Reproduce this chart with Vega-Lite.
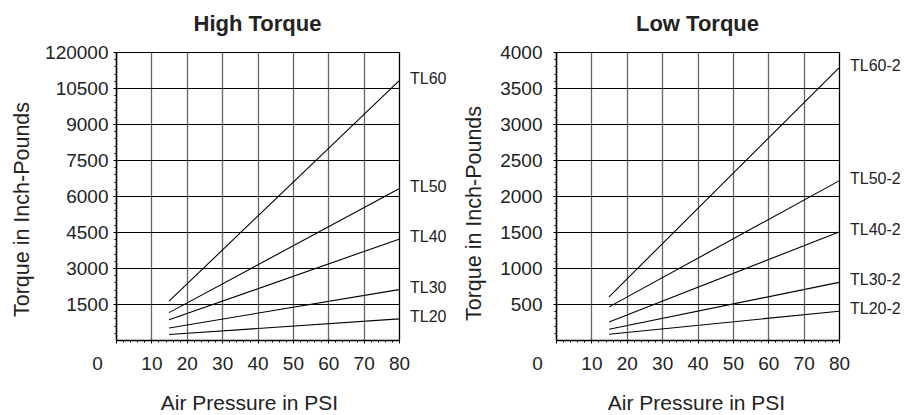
{
  "$schema": "https://vega.github.io/schema/vega-lite/v6.json",
  "padding": {"left": 11, "top": 12, "right": 0, "bottom": 0},
  "spacing": 16,
  "config": {
    "font": "Liberation Sans",
    "view": {"stroke": "#000", "strokeWidth": 1},
    "axis": {"labelColor": "#222", "titleColor": "#222", "titleFontWeight": "normal", "labelFlush": false, "labelOverlap": false, "labelBound": false, "domainColor": "#000", "tickColor": "#000"},
    "text": {"color": "#222"}
  },
  "datasets": {
    "high": [
      {"series": "TL60", "psi": 15, "torque": 1620}, {"series": "TL60", "psi": 80, "torque": 10800},
      {"series": "TL50", "psi": 15, "torque": 1140}, {"series": "TL50", "psi": 80, "torque": 6300},
      {"series": "TL40", "psi": 15, "torque": 840}, {"series": "TL40", "psi": 80, "torque": 4200},
      {"series": "TL30", "psi": 15, "torque": 500}, {"series": "TL30", "psi": 80, "torque": 2100},
      {"series": "TL20", "psi": 15, "torque": 230}, {"series": "TL20", "psi": 80, "torque": 880}
    ],
    "low": [
      {"series": "TL60-2", "psi": 15, "torque": 600}, {"series": "TL60-2", "psi": 80, "torque": 3780},
      {"series": "TL50-2", "psi": 15, "torque": 460}, {"series": "TL50-2", "psi": 80, "torque": 2210},
      {"series": "TL40-2", "psi": 15, "torque": 250}, {"series": "TL40-2", "psi": 80, "torque": 1500},
      {"series": "TL30-2", "psi": 15, "torque": 150}, {"series": "TL30-2", "psi": 80, "torque": 800},
      {"series": "TL20-2", "psi": 15, "torque": 80}, {"series": "TL20-2", "psi": 80, "torque": 400}
    ]
  },
  "hconcat": [
    {
      "width": 283, "height": 288,
      "title": {"text": "High Torque", "frame": "group", "anchor": "middle", "baseline": "alphabetic", "offset": -10, "fontSize": 22, "fontWeight": "bold", "color": "#222"},
      "data": {"name": "high"},
      "layer": [
        {
          "mark": {"type": "line", "color": "#000", "strokeWidth": 1.1},
          "encoding": {
            "x": {"field": "psi", "type": "quantitative", "scale": {"domain": [0, 80], "nice": false},
              "axis": {"orient": "bottom", "values": [0, 10, 20, 30, 40, 50, 60, 70, 80], "title": "Air Pressure in PSI", "grid": true,
                "gridColor": {"condition": {"test": "datum.value == 80", "value": "#000"}, "value": "#666"}, "gridWidth": 1.3,
                "domainWidth": 1.5, "tickSize": 3, "labelFontSize": 19, "labelPadding": 11.5,
                "labelOffset": {"condition": {"test": "datum.value == 0", "value": -19}, "value": 0},
                "titleFontSize": 21, "titleX": 133, "titleY": 63, "titleBaseline": "middle"}},
            "y": {"field": "torque", "type": "quantitative", "scale": {"domain": [0, 12000], "nice": false},
              "axis": {"orient": "left", "values": [1500, 3000, 4500, 6000, 7500, 9000, 10500, 12000], "format": "d",
                "labelExpr": "datum.value == 12000 ? '120000' : datum.label", "grid": true, "gridColor": "#000", "gridWidth": 1,
                "domainWidth": 1.5, "tickSize": 3, "labelPadding": 5, "labelFontSize": 19,
                "title": "Torque in Inch-Pounds", "titleFontSize": 21.5, "titlePadding": 11, "titleY": 157}},
            "detail": {"field": "series"}
          }
        },
        {
          "transform": [{"filter": "datum.psi == 80"}],
          "mark": {"type": "text", "align": "left", "baseline": "middle", "dx": 11, "dy": -2, "fontSize": 16},
          "encoding": {
            "x": {"field": "psi", "type": "quantitative", "axis": null},
            "y": {"field": "torque", "type": "quantitative", "axis": null},
            "text": {"field": "series"}
          }
        },
        {
          "mark": {"type": "line", "opacity": 0},
          "encoding": {
            "x": {"field": "psi", "type": "quantitative",
              "axis": {"orient": "bottom", "values": [2,4,6,8,10,12,14,16,18,20,22,24,26,28,30,32,34,36,38,40,42,44,46,48,50,52,54,56,58,60,62,64,66,68,70,72,74,76,78,80],
                "labels": false, "grid": false, "domain": false, "ticks": true, "tickSize": 2, "tickWidth": 1, "title": null}},
            "y": {"field": "torque", "type": "quantitative",
              "axis": {"orient": "left", "values": [300,600,900,1200,1500,1800,2100,2400,2700,3000,3300,3600,3900,4200,4500,4800,5100,5400,5700,6000,6300,6600,6900,7200,7500,7800,8100,8400,8700,9000,9300,9600,9900,10200,10500,10800,11100,11400,11700,12000],
                "labels": false, "grid": false, "domain": false, "ticks": true, "tickSize": 2, "tickWidth": 1, "title": null}},
            "detail": {"field": "series"}
          }
        }
      ],
      "resolve": {"axis": {"x": "independent", "y": "independent"}}
    },
    {
      "width": 283, "height": 288,
      "title": {"text": "Low Torque", "frame": "group", "anchor": "middle", "baseline": "alphabetic", "offset": -10, "fontSize": 22, "fontWeight": "bold", "color": "#222"},
      "data": {"name": "low"},
      "layer": [
        {
          "mark": {"type": "line", "color": "#000", "strokeWidth": 1.1},
          "encoding": {
            "x": {"field": "psi", "type": "quantitative", "scale": {"domain": [0, 80], "nice": false},
              "axis": {"orient": "bottom", "values": [0, 10, 20, 30, 40, 50, 60, 70, 80], "title": "Air Pressure in PSI", "grid": true,
                "gridColor": {"condition": {"test": "datum.value == 80", "value": "#000"}, "value": "#666"}, "gridWidth": 1.3,
                "domainWidth": 1.5, "tickSize": 3, "labelFontSize": 19, "labelPadding": 11.5,
                "labelOffset": {"condition": {"test": "datum.value == 0", "value": -19}, "value": 0},
                "titleFontSize": 21, "titleX": 140, "titleY": 63, "titleBaseline": "middle"}},
            "y": {"field": "torque", "type": "quantitative", "scale": {"domain": [0, 4000], "nice": false},
              "axis": {"orient": "left", "values": [500, 1000, 1500, 2000, 2500, 3000, 3500, 4000], "format": "d",
                "grid": true, "gridColor": "#000", "gridWidth": 1,
                "domainWidth": 1.5, "tickSize": 3, "labelPadding": 11, "labelFontSize": 19,
                "title": "Torque in Inch-Pounds", "titleFontSize": 21.5, "titlePadding": 14, "titleY": 161}},
            "detail": {"field": "series"}
          }
        },
        {
          "transform": [{"filter": "datum.psi == 80"}],
          "mark": {"type": "text", "align": "left", "baseline": "middle", "dx": 11, "dy": -2, "fontSize": 16},
          "encoding": {
            "x": {"field": "psi", "type": "quantitative", "axis": null},
            "y": {"field": "torque", "type": "quantitative", "axis": null},
            "text": {"field": "series"}
          }
        },
        {
          "mark": {"type": "line", "opacity": 0},
          "encoding": {
            "x": {"field": "psi", "type": "quantitative",
              "axis": {"orient": "bottom", "values": [2,4,6,8,10,12,14,16,18,20,22,24,26,28,30,32,34,36,38,40,42,44,46,48,50,52,54,56,58,60,62,64,66,68,70,72,74,76,78,80],
                "labels": false, "grid": false, "domain": false, "ticks": true, "tickSize": 2, "tickWidth": 1, "title": null}},
            "y": {"field": "torque", "type": "quantitative",
              "axis": {"orient": "left", "values": [100,200,300,400,500,600,700,800,900,1000,1100,1200,1300,1400,1500,1600,1700,1800,1900,2000,2100,2200,2300,2400,2500,2600,2700,2800,2900,3000,3100,3200,3300,3400,3500,3600,3700,3800,3900,4000],
                "labels": false, "grid": false, "domain": false, "ticks": true, "tickSize": 2, "tickWidth": 1, "title": null}},
            "detail": {"field": "series"}
          }
        }
      ],
      "resolve": {"axis": {"x": "independent", "y": "independent"}}
    }
  ]
}
